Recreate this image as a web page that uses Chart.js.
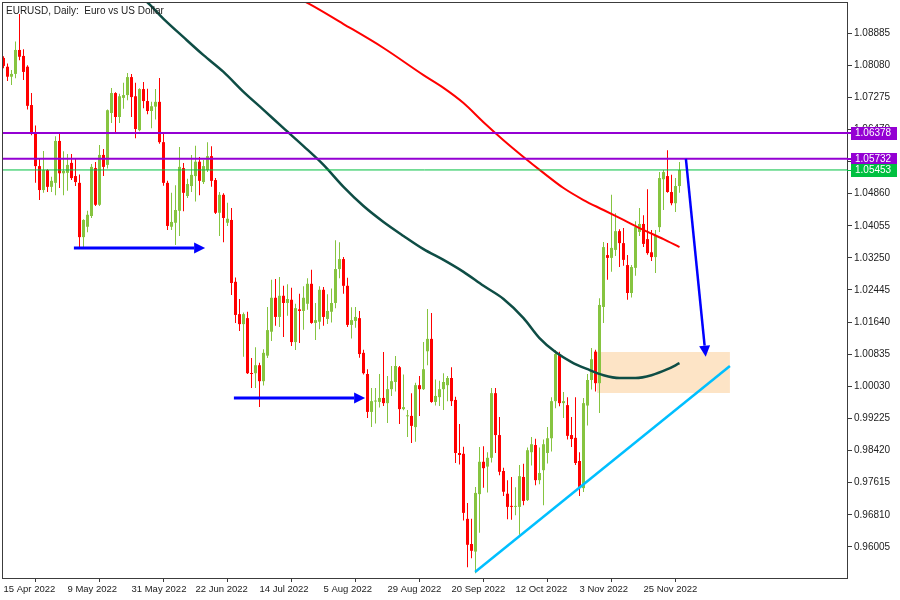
<!DOCTYPE html>
<html>
<head>
<meta charset="utf-8">
<script src="https://cdn.jsdelivr.net/npm/chart.js@4.4.0/dist/chart.umd.min.js"></script>
<style>
  html, body { margin: 0; padding: 0; background: #fff; }
  #wrap { width: 900px; height: 600px; }
</style>
</head>
<body>
<div id="wrap"><canvas id="chart" width="900" height="600"></canvas></div>
<script>
// EURUSD daily, 15 Apr 2022 .. 8 Dec 2022 (bar index 0..169)
const tickDates = ['15 Apr 2022', '9 May 2022', '31 May 2022', '22 Jun 2022', '14 Jul 2022', '5 Aug 2022',
  '29 Aug 2022', '20 Sep 2022', '12 Oct 2022', '3 Nov 2022', '25 Nov 2022']
const tickBars = [0, 16, 32, 48, 64, 80, 96, 112, 128, 144, 160]
const priceTicks = [0.96005, 0.96810, 0.97615, 0.98420, 0.99225, 1.00030, 1.00835, 1.01640, 1.02445,
  1.03250, 1.04055, 1.04860, 1.05665, 1.06470, 1.07275, 1.08080, 1.08885]

const opens = [
  1.0826, 1.0804, 1.0779, 1.0786, 1.0846, 1.0831, 1.0804, 1.0708, 1.0638, 1.0555,
  1.0495, 1.0545, 1.0503, 1.0513, 1.0618, 1.0537, 1.0538, 1.0563, 1.0530, 1.0513,
  1.0377, 1.0403, 1.0430, 1.0550, 1.0458, 1.0583, 1.0558, 1.0688, 1.0738, 1.0678,
  1.0726, 1.0733, 1.0778, 1.0730, 1.0645, 1.0748, 1.0718, 1.0693, 1.0704, 1.0716,
  1.0615, 1.0513, 1.0403, 1.0413, 1.0443, 1.0550, 1.0480, 1.0505, 1.0530, 1.0566,
  1.0515, 1.0545, 1.0580, 1.0520, 1.0438, 1.0483, 1.0413, 1.0420, 1.0265, 1.0184,
  1.0159, 1.0174, 1.0036, 1.0036, 1.0056, 1.0016, 1.0080, 1.0140, 1.0225, 1.0177,
  1.0230, 1.0212, 1.0220, 1.0114, 1.0196, 1.0192, 1.0210, 1.0260, 1.0162, 1.0165,
  1.0245, 1.0172, 1.0190, 1.0212, 1.0297, 1.0322, 1.0255, 1.0157, 1.0167, 1.0174,
  1.0087, 1.0034, 0.9939, 0.9965, 0.9964, 0.9974, 0.9961, 0.9996, 1.0014, 1.0051,
  0.9946, 0.9928, 0.9929, 0.9901, 1.0006, 0.9996, 1.0091, 1.0122, 0.9964, 0.9976,
  0.9996, 1.0006, 1.0024, 0.9969, 0.9836, 0.9834, 0.9671, 0.9608, 0.9589, 0.9733,
  0.9814, 0.9802, 0.9824, 0.9986, 0.9881, 0.9791, 0.9734, 0.9702, 0.9701, 0.9701,
  0.9776, 0.9718, 0.9838, 0.9856, 0.9768, 0.9793, 0.9836, 0.9873, 0.9966, 1.0084,
  0.9961, 0.9956, 0.9881, 0.9874, 0.9816, 0.9748, 0.9955, 1.0019, 1.0090, 1.0011,
  1.0202, 1.0332, 1.0325, 1.0345, 1.0392, 1.0362, 1.0307, 1.0237, 1.0300, 1.0390,
  1.0410, 1.0372, 1.0339, 1.0327, 1.0402, 1.0522, 1.0530, 1.0490, 1.0462, 1.0505
]
const highs = [
  1.0830, 1.0812, 1.0796, 1.0867, 1.0936, 1.0848, 1.0808, 1.0738, 1.0657, 1.0575,
  1.0593, 1.0547, 1.0528, 1.0630, 1.0638, 1.0592, 1.0585, 1.0585, 1.0573, 1.0534,
  1.0422, 1.0443, 1.0560, 1.0565, 1.0608, 1.0598, 1.0697, 1.0751, 1.0740, 1.0736,
  1.0764, 1.0788, 1.0786, 1.0764, 1.0750, 1.0766, 1.0749, 1.0716, 1.0748, 1.0776,
  1.0639, 1.0518, 1.0488, 1.0507, 1.0603, 1.0563, 1.0523, 1.0583, 1.0606, 1.0578,
  1.0570, 1.0615, 1.0605, 1.0525, 1.0490, 1.0487, 1.0463, 1.0450, 1.0276, 1.0222,
  1.0188, 1.0190, 1.0074, 1.0101, 1.0062, 1.0096, 1.0202, 1.0270, 1.0272, 1.0277,
  1.0255, 1.0259, 1.0250, 1.0210, 1.0235, 1.0254, 1.0274, 1.0295, 1.0212, 1.0254,
  1.0252, 1.0234, 1.0248, 1.0369, 1.0364, 1.0327, 1.0275, 1.0201, 1.0202, 1.0192,
  1.0095, 1.0046, 0.9999, 0.9999, 1.0034, 1.0089, 1.0029, 1.0054, 1.0079, 1.0054,
  1.0033, 0.9944, 0.9986, 1.0012, 1.0029, 1.0114, 1.0197, 1.0187, 1.0020, 1.0017,
  1.0036, 1.0029, 1.0051, 0.9977, 0.9909, 0.9852, 0.9711, 0.9671, 0.9751, 0.9851,
  0.9853, 0.9838, 0.9999, 0.9999, 0.9926, 0.9799, 0.9768, 0.9776, 0.9750, 0.9806,
  0.9809, 0.9850, 0.9876, 0.9872, 0.9850, 0.9870, 0.9901, 0.9976, 1.0094, 1.0090,
  0.9989, 0.9976, 0.9926, 0.9976, 0.9838, 0.9974, 1.0034, 1.0099, 1.0095, 1.0224,
  1.0365, 1.0362, 1.0483, 1.0437, 1.0397, 1.0400, 1.0332, 1.0307, 1.0417, 1.0450,
  1.0432, 1.0497, 1.0395, 1.0395, 1.0540, 1.0545, 1.0595, 1.0533, 1.0525, 1.0565
]
const lows = [
  1.0800, 1.0768, 1.0758, 1.0775, 1.0820, 1.0771, 1.0697, 1.0632, 1.0513, 1.0470,
  1.0488, 1.0490, 1.0490, 1.0482, 1.0500, 1.0482, 1.0493, 1.0520, 1.0505, 1.0352,
  1.0352, 1.0389, 1.0425, 1.0455, 1.0455, 1.0530, 1.0549, 1.0663, 1.0640, 1.0663,
  1.0699, 1.0720, 1.0678, 1.0625, 1.0642, 1.0700, 1.0685, 1.0650, 1.0672, 1.0611,
  1.0506, 1.0395, 1.0395, 1.0357, 1.0380, 1.0442, 1.0475, 1.0490, 1.0466, 1.0482,
  1.0510, 1.0540, 1.0503, 1.0435, 1.0380, 1.0364, 1.0405, 1.0232, 1.0162, 1.0142,
  1.0077, 1.0034, 0.9999, 0.9999, 0.9951, 1.0005, 1.0074, 1.0117, 1.0155, 1.0152,
  1.0127, 1.0180, 1.0104, 1.0094, 1.0112, 1.0145, 1.0195, 1.0160, 1.0119, 1.0146,
  1.0155, 1.0159, 1.0163, 1.0199, 1.0274, 1.0235, 1.0152, 1.0123, 1.0150, 1.0075,
  1.0033, 0.9924, 0.9901, 0.9910, 0.9950, 0.9954, 0.9911, 0.9979, 0.9990, 0.9909,
  0.9943, 0.9876, 0.9861, 0.9864, 0.9929, 0.9994, 1.0056, 0.9962, 0.9955, 0.9954,
  0.9944, 0.9966, 0.9954, 0.9811, 0.9807, 0.9667, 0.9550, 0.9572, 0.9535, 0.9636,
  0.9749, 0.9737, 0.9812, 0.9836, 0.9780, 0.9728, 0.9670, 0.9669, 0.9680, 0.9631,
  0.9705, 0.9716, 0.9805, 0.9755, 0.9758, 0.9705, 0.9810, 0.9840, 0.9948, 0.9953,
  0.9924, 0.9870, 0.9851, 0.9806, 0.9728, 0.9738, 0.9905, 0.9995, 0.9990, 0.9936,
  1.0162, 1.0270, 1.0290, 1.0330, 1.0302, 1.0305, 1.0220, 1.0226, 1.0280, 1.0380,
  1.0352, 1.0333, 1.0317, 1.0287, 1.0390, 1.0445, 1.0488, 1.0457, 1.0440, 1.0488
]
const closes = [
  1.0806, 1.0779, 1.0786, 1.0846, 1.0829, 1.0791, 1.0706, 1.0638, 1.0555, 1.0495,
  1.0545, 1.0503, 1.0518, 1.0618, 1.0537, 1.0543, 1.0558, 1.0525, 1.0515, 1.0377,
  1.0420, 1.0433, 1.0553, 1.0458, 1.0583, 1.0553, 1.0695, 1.0738, 1.0678, 1.0730,
  1.0733, 1.0778, 1.0728, 1.0648, 1.0748, 1.0718, 1.0693, 1.0705, 1.0716, 1.0615,
  1.0513, 1.0405, 1.0415, 1.0445, 1.0553, 1.0488, 1.0510, 1.0533, 1.0566, 1.0518,
  1.0555, 1.0580, 1.0518, 1.0438, 1.0483, 1.0425, 1.0423, 1.0262, 1.0182, 1.0159,
  1.0184, 1.0036, 1.0034, 1.0056, 1.0016, 1.0087, 1.0144, 1.0225, 1.0177, 1.0230,
  1.0212, 1.0222, 1.0114, 1.0199, 1.0192, 1.0225, 1.0260, 1.0162, 1.0169, 1.0245,
  1.0177, 1.0192, 1.0212, 1.0297, 1.0322, 1.0255, 1.0157, 1.0169, 1.0177, 1.0084,
  1.0036, 0.9939, 0.9966, 0.9967, 0.9974, 0.9961, 0.9996, 1.0016, 1.0054, 0.9946,
  0.9951, 0.9930, 0.9904, 1.0006, 0.9996, 1.0046, 1.0122, 0.9964, 0.9979, 0.9996,
  1.0014, 1.0024, 0.9966, 0.9836, 0.9831, 0.9686, 0.9606, 0.9591, 0.9736, 0.9814,
  0.9798, 0.9824, 0.9986, 0.9881, 0.9789, 0.9739, 0.9701, 0.9701, 0.9702, 0.9778,
  0.9716, 0.9843, 0.9858, 0.9768, 0.9786, 0.9858, 0.9873, 0.9966, 1.0084, 0.9961,
  0.9966, 0.9879, 0.9871, 0.9811, 0.9751, 0.9961, 1.0019, 1.0071, 1.0011, 1.0207,
  1.0352, 1.0325, 1.0350, 1.0392, 1.0362, 1.0320, 1.0237, 1.0302, 1.0402, 1.0410,
  1.0360, 1.0337, 1.0327, 1.0380, 1.0525, 1.0540, 1.0490, 1.0462, 1.0505, 1.0545
]

// moving averages
const maRedBars = [70, 75, 85, 95, 105, 110, 115, 120, 125, 130, 135, 140, 145, 150, 155, 160, 165, 169]
const maRedValues = [1.0990, 1.0969, 1.0911, 1.0851, 1.0783, 1.0751, 1.0713, 1.0665, 1.0620, 1.0578,
  1.0538, 1.0500, 1.0470, 1.0445, 1.0420, 1.0395, 1.0372, 1.0352]
const maGreenBars = [33, 35, 40, 45, 50, 55, 60, 65, 70, 75, 80, 85, 90, 95, 100, 105, 110, 115, 120,
  125, 130, 134, 138, 142, 146, 150, 154, 158, 162, 166, 169]
const maGreenValues = [1.0985, 1.0974, 1.0924, 1.0878, 1.0833, 1.0791, 1.0741, 1.0696, 1.0650, 1.0605,
  1.0558, 1.0503, 1.0455, 1.0415, 1.0380, 1.0347, 1.0320, 1.0290, 1.0255, 1.0222, 1.0174, 1.0124,
  1.0089, 1.0064, 1.0046, 1.0031, 1.0024, 1.0024, 1.0031, 1.0046, 1.0061]

const levelValues = [1.06378, 1.05732, 1.05453]
const levelColors = ['#9400d3', '#9400d3', '#00c040']

const zoneBars = [148.4, 181.6]
const zonePrices = [0.99864, 1.00891]
const trendBars = [117.9, 181.6]
const trendPrices = [0.95379, 1.00541]
const arrowBars = [[17.6, 50.4], [57.6, 90.4], [170.6, 175.55]]
const arrowPrices = [[1.03497, 1.03497], [0.99739, 0.99739], [1.05732, 1.00774]]

const X_MIN = -0.375
const X_MAX = 210.875
const UP = '#86c440'
const DOWN = '#ff0000'

const candleColors = closes.map((c, i) => (c >= opens[i] ? UP : DOWN))

const extras = {
  id: 'extras',
  beforeDatasetsDraw (chart) {
    const { ctx, scales: { x, y } } = chart
    const x1 = x.getPixelForValue(zoneBars[0])
    const x2 = x.getPixelForValue(zoneBars[1])
    const y1 = y.getPixelForValue(zonePrices[1])
    const y2 = y.getPixelForValue(zonePrices[0])
    ctx.save()
    ctx.fillStyle = '#fde4c6'
    ctx.fillRect(x1, y1, x2 - x1, y2 - y1)
    ctx.restore()
  },
  afterDatasetsDraw (chart) {
    const { ctx, chartArea, scales: { x, y } } = chart
    ctx.save()
    ctx.beginPath()
    ctx.rect(chartArea.left, chartArea.top, chartArea.right - chartArea.left, chartArea.bottom - chartArea.top)
    ctx.clip()

    // trend line
    ctx.strokeStyle = '#00bfff'
    ctx.lineWidth = 2.5
    ctx.beginPath()
    ctx.moveTo(x.getPixelForValue(trendBars[0]), y.getPixelForValue(trendPrices[0]))
    ctx.lineTo(x.getPixelForValue(trendBars[1]), y.getPixelForValue(trendPrices[1]))
    ctx.stroke()

    // arrows
    ctx.strokeStyle = '#0000ff'
    ctx.fillStyle = '#0000ff'
    arrowBars.forEach((bars, k) => {
      const ax = x.getPixelForValue(bars[0])
      const ay = y.getPixelForValue(arrowPrices[k][0])
      const bx = x.getPixelForValue(bars[1])
      const by = y.getPixelForValue(arrowPrices[k][1])
      const ang = Math.atan2(by - ay, bx - ax)
      const len = 11
      const half = 5.5
      const baseX = bx - Math.cos(ang) * len
      const baseY = by - Math.sin(ang) * len
      ctx.lineWidth = k === 2 ? 2.5 : 3
      ctx.beginPath()
      ctx.moveTo(ax, ay)
      ctx.lineTo(baseX, baseY)
      ctx.stroke()
      ctx.beginPath()
      ctx.moveTo(bx, by)
      ctx.lineTo(baseX - Math.sin(ang) * half, baseY + Math.cos(ang) * half)
      ctx.lineTo(baseX + Math.sin(ang) * half, baseY - Math.cos(ang) * half)
      ctx.closePath()
      ctx.fill()
    })
    ctx.restore()
  },
  afterDraw (chart) {
    const { ctx, chartArea, scales: { y } } = chart
    ctx.save()
    // frame
    ctx.strokeStyle = '#3c3c3c'
    ctx.lineWidth = 1
    ctx.strokeRect(chartArea.left + 0.5, chartArea.top + 0.5,
      chartArea.right - chartArea.left, chartArea.bottom - chartArea.top)

    // price badges on the axis
    ctx.font = '10px "Liberation Sans"'
    ctx.textBaseline = 'middle'
    ctx.textAlign = 'left'
    levelValues.forEach((v, k) => {
      const py = Math.round(y.getPixelForValue(v))
      ctx.fillStyle = levelColors[k]
      ctx.fillRect(chartArea.right, py - (k === 2 ? 0 : 1), 4, k === 2 ? 1 : 2)
      ctx.fillRect(chartArea.right + 4, py - 6, 46, 13)
      ctx.fillStyle = '#ffffff'
      ctx.fillText(v.toFixed(5), chartArea.right + 8, py + 0.5)
    })

    // title
    ctx.fillStyle = '#222'
    ctx.font = '10px "Liberation Sans"'
    ctx.textBaseline = 'alphabetic'
    ctx.fillText('EURUSD, Daily:  Euro vs US Dollar', 6, 14)
    ctx.restore()
  }
}

new Chart(document.getElementById('chart'), {
  type: 'bar',
  data: {
    datasets: [
      ...levelValues.map((v, k) => ({
        type: 'line',
        data: [{ x: X_MIN, y: v }, { x: X_MAX, y: v }],
        borderColor: levelColors[k],
        borderWidth: k === 2 ? 1 : 2,
        pointRadius: 0,
        order: 2
      })),
      {
        type: 'line',
        data: maGreenBars.map((b, i) => ({ x: b, y: maGreenValues[i] })),
        borderColor: '#0e4d45',
        borderWidth: 2.5,
        pointRadius: 0,
        cubicInterpolationMode: 'monotone',
        order: 4
      },
      {
        type: 'line',
        data: maRedBars.map((b, i) => ({ x: b, y: maRedValues[i] })),
        borderColor: '#ff0000',
        borderWidth: 2,
        pointRadius: 0,
        cubicInterpolationMode: 'monotone',
        order: 4
      },
      {
        data: opens.map((o, i) => ({ x: i, y: [o, closes[i]] })),
        backgroundColor: candleColors,
        barThickness: 3,
        minBarLength: 1,
        grouped: false,
        inflateAmount: 0,
        borderWidth: 0,
        order: 8
      },
      {
        data: lows.map((l, i) => ({ x: i, y: [l, highs[i]] })),
        backgroundColor: candleColors,
        barThickness: 1,
        grouped: false,
        inflateAmount: 0,
        borderWidth: 0,
        order: 9
      }
    ]
  },
  options: {
    responsive: false,
    animation: false,
    devicePixelRatio: 1,
    layout: { padding: { left: 2, top: 2, right: 0, bottom: 0 } },
    plugins: { legend: { display: false }, tooltip: { enabled: false } },
    scales: {
      x: {
        type: 'linear',
        min: X_MIN,
        max: X_MAX,
        offset: false,
        afterBuildTicks: (scale) => { scale.ticks = tickBars.map((v) => ({ value: v })) },
        afterFit: (scale) => {
          scale.height = 22
          scale.paddingLeft = 0
          scale.paddingRight = 0
        },
        grid: { drawOnChartArea: false, tickLength: 4, color: '#3c3c3c' },
        border: { display: true, color: '#3c3c3c' },
        ticks: {
          autoSkip: false,
          maxRotation: 0,
          align: 'start',
          padding: 2,
          color: '#222',
          font: { family: 'Liberation Sans', size: 9.5 },
          callback: (v) => tickDates[tickBars.indexOf(v)]
        }
      },
      y: {
        type: 'linear',
        position: 'right',
        min: 0.95228,
        max: 1.09662,
        afterBuildTicks: (scale) => { scale.ticks = priceTicks.map((v) => ({ value: v })) },
        afterFit: (scale) => {
          scale.width = 53
          scale.paddingTop = 0
          scale.paddingBottom = 0
        },
        grid: { drawOnChartArea: false, tickLength: 5, color: '#3c3c3c' },
        border: { display: true, color: '#3c3c3c' },
        ticks: {
          autoSkip: false,
          padding: 2,
          color: '#222',
          font: { family: 'Liberation Sans', size: 10 },
          callback: (v) => v.toFixed(5)
        }
      }
    }
  },
  plugins: [extras]
})
</script>
</body>
</html>
